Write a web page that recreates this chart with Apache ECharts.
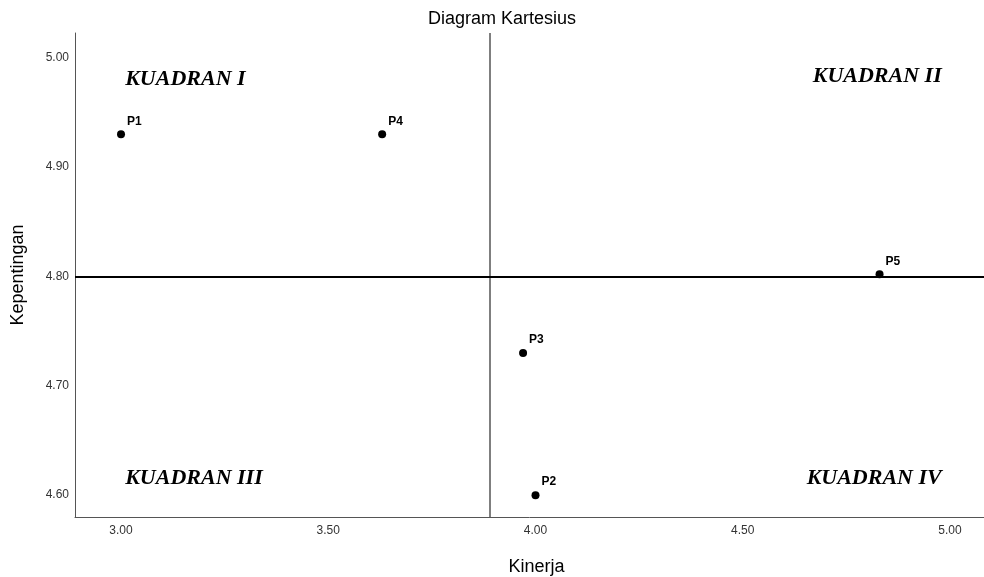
<!DOCTYPE html>
<html>
<head>
<meta charset="utf-8">
<script src="https://cdn.jsdelivr.net/npm/echarts@6/dist/echarts.min.js"></script>
<style>html,body{margin:0;padding:0;background:#fff;}#c{width:984px;height:577px;}</style>
</head>
<body>
<div id="c"></div>
<script>
// Data
const pointNames = ['P1', 'P2', 'P3', 'P4', 'P5'];
const kinerja = [3.00, 4.00, 3.97, 3.63, 4.83];
const kepentingan = [4.93, 4.60, 4.73, 4.93, 4.802];
const meanKinerja = 3.887;
const meanKepentingan = 4.80;
const xTicks = [3.00, 3.50, 4.00, 4.50, 5.00];
const yTicks = [4.60, 4.70, 4.80, 4.90, 5.00];
const quadNames = ['KUADRAN I', 'KUADRAN II', 'KUADRAN III', 'KUADRAN IV'];
const quadX = [3.01, 4.98, 3.01, 4.98];
const quadY = [4.980, 4.983, 4.615, 4.615];

const chart = echarts.init(document.getElementById('c'), null, {renderer: 'canvas'});
const sans = 'Arial, "Liberation Sans", sans-serif';
const serif = '"Times New Roman", "Liberation Serif", serif';

const quadLabelStyle = {
  show: true, fontFamily: serif, fontWeight: 'bold', fontStyle: 'italic',
  fontSize: 22, color: '#000', distance: 0,
  formatter: p => p.name
};

chart.setOption({
  animation: false,
  backgroundColor: '#fff',
  title: {
    text: 'Diagram Kartesius', left: 497, top: 5,
    textAlign: 'center',
    textStyle: {fontFamily: sans, fontSize: 18, fontWeight: 'normal', color: '#000'}
  },
  grid: {left: 75, right: 0, top: 33, bottom: 60, containLabel: false, outerBoundsMode: 'none'},
  xAxis: {
    type: 'value', min: 2.889, max: 5.082,
    name: 'Kinerja', nameLocation: 'middle', nameGap: 41,
    nameTextStyle: {fontFamily: sans, fontSize: 18, color: '#000', padding: [0, 0, 0, 14]},
    axisLine: {show: true, onZero: false, lineStyle: {color: '#555', width: 1}},
    axisTick: {show: false},
    splitLine: {show: false},
    axisLabel: {customValues: xTicks, formatter: v => v.toFixed(2), fontFamily: sans, fontSize: 12, color: '#333', margin: 8}
  },
  yAxis: {
    type: 'value', min: 4.580, max: 5.0226,
    name: 'Kepentingan', nameLocation: 'middle', nameGap: 48,
    nameTextStyle: {fontFamily: sans, fontSize: 18, color: '#000'},
    axisLine: {show: true, onZero: false, lineStyle: {color: '#555', width: 1}},
    axisTick: {show: false},
    splitLine: {show: false},
    axisLabel: {customValues: yTicks, formatter: v => v.toFixed(2), fontFamily: sans, fontSize: 12, color: '#333', margin: 6}
  },
  series: [
    {
      type: 'scatter',
      symbol: 'circle', symbolSize: 8,
      itemStyle: {color: '#000', opacity: 1},
      data: pointNames.map((n, i) => ({name: n, value: [kinerja[i], kepentingan[i]]})),
      label: {
        show: true, position: 'right', distance: 2, offset: [0, -13],
        formatter: p => p.name,
        fontFamily: sans, fontSize: 12, fontWeight: 'bold', color: '#000'
      },
      markLine: {
        silent: true, symbol: 'none', label: {show: false},
        data: [
          {xAxis: meanKinerja, lineStyle: {color: '#555', width: 1.5, type: 'solid'}},
          {yAxis: meanKepentingan, lineStyle: {color: '#000', width: 2, type: 'solid'}}
        ]
      },
      z: 5
    },
    {
      type: 'scatter', symbolSize: 0, silent: true,
      itemStyle: {opacity: 1},
      data: quadNames.map((n, i) => ({
        name: n, value: [quadX[i], quadY[i]],
        label: Object.assign({}, quadLabelStyle, {position: (i % 2 === 0) ? 'right' : 'left'})
      })),
      label: quadLabelStyle
    }
  ]
});
</script>
</body>
</html>
